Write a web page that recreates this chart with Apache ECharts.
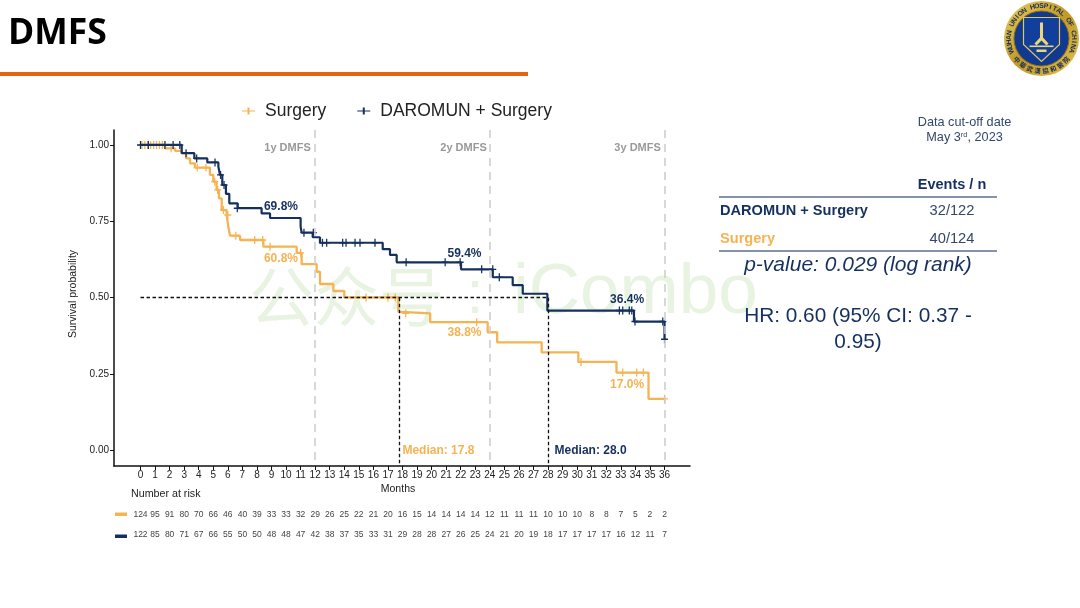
<!DOCTYPE html>
<html><head><meta charset="utf-8">
<style>html,body{margin:0;padding:0;background:#fff}#c{width:1080px;height:608px}</style>
<script src="https://cdn.jsdelivr.net/npm/echarts@6/dist/echarts.min.js"></script>
</head><body><div id="c"></div>
<script>
const ORANGE='#f6b352', NAVY='#15305f', FONT='"Liberation Sans",Arial,sans-serif';
const months=Array.from({length:37},(_,i)=>i);
const yTicks=[0,0.25,0.5,0.75,1];

const surgeryT=[0,1.68,2.37,2.83,3.13,3.4,3.74,4.77,5,5.23,5.39,5.58,5.92,6.03,6.15,6.84,8.44,10.73,11.07,12.1,12.33,13.25,14,17.71,17.87,19.9,23.85,24.5,27.56,30.08,32.7,34.9,36];
const surgeryS=[1,0.989,0.981,0.973,0.956,0.94,0.926,0.902,0.88,0.853,0.825,0.787,0.771,0.733,0.703,0.689,0.667,0.647,0.61,0.585,0.545,0.522,0.501,0.454,0.449,0.42,0.387,0.354,0.321,0.29,0.255,0.169,0.169];
const comboT=[0,2.83,3.7,4.59,5.35,5.46,5.62,5.87,6.1,6.68,8.32,8.9,11,11.07,11.83,12.33,16.64,17.14,17.6,22.02,24.2,25.57,26.26,27.95,33.9,36,36];
const comboS=[1,0.973,0.956,0.943,0.929,0.902,0.869,0.84,0.809,0.793,0.776,0.761,0.733,0.713,0.698,0.68,0.659,0.64,0.616,0.593,0.567,0.541,0.513,0.458,0.422,0.422,0.364];

const surgeryCensT=[0.1,0.3,0.5,0.7,0.9,1.1,1.3,1.5,2.1,3.9,4.5,5.1,5.3,5.7,6.0,6.55,7.85,8.4,8.9,11,15.5,17,17.5,18.22,23.1,30.26,33.13,34.09,34.55,36];
const surgeryCensS=[1,1,1,1,1,1,1,1,0.989,0.926,0.926,0.88,0.853,0.787,0.771,0.703,0.689,0.689,0.667,0.647,0.501,0.501,0.501,0.449,0.42,0.29,0.255,0.255,0.255,0.169];
const comboCensT=[0,0.54,1.68,2.24,2.7,3.13,3.86,5.12,5.5,5.74,6.65,11.23,11.87,12.5,12.79,13.89,14.12,14.74,15.08,16.11,18.25,20.93,21.96,23.44,24.2,24.65,32.9,33.13,33.58,33.75,33.97,35.88,36];
const comboCensS=[1,1,1,1,1,0.973,0.956,0.943,0.902,0.869,0.793,0.713,0.713,0.68,0.68,0.68,0.68,0.68,0.68,0.68,0.616,0.616,0.616,0.593,0.593,0.567,0.458,0.458,0.458,0.458,0.422,0.422,0.364];

const surgeryRisk=[124,95,91,80,70,66,46,40,39,33,33,32,29,26,25,22,21,20,16,15,14,14,14,14,12,11,11,11,10,10,10,8,8,7,5,2,2];
const comboRisk=[122,85,80,71,67,66,55,50,50,48,48,47,42,38,37,35,33,31,29,28,28,27,26,25,24,21,20,19,18,17,17,17,17,16,12,11,7];

const greyNotes=[[10.1,0.99,'1y DMFS'],[22.19,0.99,'2y DMFS'],[34.15,0.99,'3y DMFS']];
const navyNotes=[[9.65,0.797,'69.8%'],[22.26,0.643,'59.4%'],[33.43,0.493,'36.4%'],[30.92,0,'Median: 28.0']];
const orangeNotes=[[9.65,0.627,'60.8%'],[22.26,0.385,'38.8%'],[33.43,0.214,'17.0%'],[20.47,0,'Median: 17.8']];

const XMIN=-1.82,XMAX=37.75,YMIN=-0.0507,YMAX=1.049;
const zip=(a,b)=>a.map((v,i)=>[v,b[i]]);
const cross='path://M3.2 0h1.4v8h-1.4zM0 3.3h7.8v1.4H0z';
const legendIcon='path://M0 2.9H5.5V0H7.5V2.9H13V4.1H7.5V7H5.5V4.1H0z';

function notes(data,color,size,weight){
  return {type:'scatter',data,symbolSize:0,silent:true,z:6,xAxisIndex:0,yAxisIndex:0,itemStyle:{opacity:1},
    label:{show:true,position:'inside',opacity:1,formatter:p=>p.data[2],color,fontSize:size,fontWeight:weight,fontFamily:FONT}};
}
function riskRow(vals,row){
  return {type:'scatter',xAxisIndex:1,yAxisIndex:1,symbolSize:0,silent:true,itemStyle:{opacity:1},
    data:vals.map((v,i)=>[months[i],row,v]),
    label:{show:true,position:'inside',formatter:p=>String(p.data[2]),color:'#444',fontSize:8.5,fontFamily:FONT}};
}
function T(x,y,text,o){
  return {type:'text',x,y,rotation:(o&&o.rot)||0,silent:true,z:o&&o.z!==undefined?o.z:5,
    style:Object.assign({text,fontFamily:FONT,fill:NAVY,fontSize:13,align:'center',verticalAlign:'middle'},o||{})};
}
/* ---- logo ---- */
const LX=1041.5,LY=38.5;
const logo=[
 {type:'circle',shape:{cx:LX,cy:LY,r:37.5},silent:true,z:5,style:{fill:new echarts.graphic.LinearGradient(0,0,1,1,[{offset:0,color:'#e8cf63'},{offset:.5,color:'#c19a28'},{offset:1,color:'#e0c354'}])}},
 {type:'circle',shape:{cx:LX,cy:LY,r:27.5},silent:true,z:5,style:{fill:'#10398f',stroke:'#8a6c14',lineWidth:1}},
 {type:'polygon',shape:{points:[[LX-18,LY-21],[LX+18,LY-21],[LX+18,LY+6],[LX,LY+23],[LX-18,LY+6]]},silent:true,z:6,style:{fill:'#123f9c',stroke:'#e2c75a',lineWidth:1.2}},
 {type:'polygon',shape:{points:[[LX-1.5,LY-16],[LX+1.5,LY-16],[LX+1.5,LY-1],[LX+7,LY+5],[LX+5,LY+7],[LX,LY+2],[LX-5,LY+7],[LX-7,LY+5],[LX-1.5,LY-1]]},silent:true,z:7,style:{fill:'#ecd679'}},
 {type:'rect',shape:{x:LX-12,y:LY+7,width:24,height:1.6},silent:true,z:7,style:{fill:'#ecd679'}},
 {type:'rect',shape:{x:LX-5,y:LY+11,width:10,height:2.5},silent:true,z:7,style:{fill:'#ecd679'}}
];
const ring='WUHAN UNION HOSPITAL OF CHINA';
[...ring].forEach((ch,i)=>{
  const a=(-112+i*(224/(ring.length-1)))*Math.PI/180;
  logo.push({type:'text',x:LX+32.5*Math.sin(a),y:LY-32.5*Math.cos(a),rotation:-a,silent:true,z:7,
    style:{text:ch,fontSize:6.8,fontWeight:'bold',fontFamily:FONT,fill:'#1b2a55',align:'center',verticalAlign:'middle'}});
});
const ringCn='中華武漢協和醫院';
[...ringCn].forEach((ch,i)=>{
  const b=(180+49-i*14)*Math.PI/180;
  logo.push({type:'text',x:LX+32.5*Math.sin(b),y:LY-32.5*Math.cos(b),rotation:Math.PI-b,silent:true,z:7,
    style:{text:ch,fontSize:6.5,fontWeight:'bold',fontFamily:'"Noto Sans CJK TC"',fill:'#1b2a55',align:'center',verticalAlign:'middle'}});
});

const WM='#e8f3e1';
const graphic=[
 T(249,296,'公众号',{align:'left',fontFamily:'"Noto Sans CJK SC"',fontSize:65,fill:WM,z:0}),
 T(475,296,':',{fontSize:62,fill:WM,z:0}),
 T(513,293,'iCombo',{align:'left',fontSize:71,fill:WM,z:0}),
 T(8,34,'DMFS',{align:'left',fontFamily:'"Open Sans"',fontWeight:'bold',fontSize:35.5,fill:'#000'}),
 {type:'rect',shape:{x:0,y:72,width:528,height:4},silent:true,style:{fill:'#e2660f'}},
 T(131,494,'Number at risk',{align:'left',fontSize:10.7,fill:'#222'}),
 T(398,489,'Months',{fontSize:10.5,fill:'#222'}),
 T(73,294,'Survival probability',{fontSize:10.5,fill:'#222',rot:Math.PI/2}),
 {type:'rect',shape:{x:115,y:512.5,width:12,height:3.5},silent:true,style:{fill:ORANGE}},
 {type:'rect',shape:{x:115,y:534.5,width:12,height:3.5},silent:true,style:{fill:NAVY}},
 T(964.5,122,'Data cut-off date',{fontSize:12.7,fill:'#33476b'}),
 {type:'text',x:964.5,y:137,silent:true,style:{rich:{a:{fontSize:12.7,fontFamily:FONT,fill:'#33476b'},s:{fontSize:7.5,fontFamily:FONT,fill:'#33476b',verticalAlign:'top',padding:[0,0,5,0]}},text:'{a|May 3}{s|rd}{a|, 2023}',align:'center',verticalAlign:'middle'}},
 T(952,185,'Events / n',{fontWeight:'bold',fontSize:14.5}),
 {type:'line',shape:{x1:719,y1:197,x2:997,y2:197},silent:true,style:{stroke:'#5a6f8c',lineWidth:1.5}},
 T(720,211,'DAROMUN + Surgery',{align:'left',fontWeight:'bold',fontSize:14.6}),
 T(952,211,'32/122',{fontSize:14.7,fill:'#33476b'}),
 T(720,239,'Surgery',{align:'left',fontWeight:'bold',fontSize:14.6,fill:ORANGE}),
 T(952,239,'40/124',{fontSize:14.7,fill:'#33476b'}),
 {type:'line',shape:{x1:719,y1:251,x2:997,y2:251},silent:true,style:{stroke:'#5a6f8c',lineWidth:1.5}},
 T(858,265,'p-value: 0.029 (log rank)',{fontStyle:'italic',fontSize:21}),
 T(858,316,'HR: 0.60 (95% CI: 0.37 -',{fontSize:20.8}),
 T(858,342,'0.95)',{fontSize:20.8})
].concat(logo);

const chart=echarts.init(document.getElementById('c'),null,{renderer:'canvas'});
chart.setOption({
 animation:false,backgroundColor:'#fff',
 textStyle:{fontFamily:FONT},
 graphic,
 legend:{top:97,left:237,itemGap:31,itemWidth:13,itemHeight:7,selectedMode:false,
   textStyle:{fontSize:17.5,color:'#222',fontFamily:FONT,padding:[0,0,0,5]},
   data:[{name:'Surgery',icon:legendIcon,itemStyle:{color:ORANGE}},{name:'DAROMUN + Surgery',icon:legendIcon,itemStyle:{color:NAVY}}]},
 grid:[{left:114,right:390,top:130,height:336},{left:114,right:390,top:504,height:41,show:false}],
 xAxis:[
  {type:'value',gridIndex:0,min:XMIN,max:XMAX,splitLine:{show:false},
   axisLine:{onZero:false,lineStyle:{color:'#111',width:1.5}},
   axisTick:{length:4,customValues:months,lineStyle:{color:'#111'}},
   axisLabel:{customValues:months,color:'#222',fontSize:10,margin:4,fontFamily:FONT}},
  {type:'value',gridIndex:1,min:XMIN,max:XMAX,show:false}
 ],
 yAxis:[
  {type:'value',gridIndex:0,min:YMIN,max:YMAX,splitLine:{show:false},
   axisLine:{show:true,onZero:false,lineStyle:{color:'#111',width:1.5}},
   axisTick:{show:true,length:4,customValues:yTicks,lineStyle:{color:'#111'}},
   axisLabel:{customValues:yTicks,formatter:v=>v.toFixed(2),color:'#222',fontSize:10,margin:5,fontFamily:FONT}},
  {type:'category',gridIndex:1,data:['combo','surgery'],show:false}
 ],
 series:[
  {name:'Surgery',type:'line',step:'end',showSymbol:false,symbol:'none',z:3,data:zip(surgeryT,surgeryS),lineStyle:{color:ORANGE,width:2.3},itemStyle:{color:ORANGE}},
  {name:'DAROMUN + Surgery',type:'line',step:'end',showSymbol:false,symbol:'none',z:4,data:zip(comboT,comboS),lineStyle:{color:NAVY,width:2.2},itemStyle:{color:NAVY}},
  {name:'Surgery censored',type:'scatter',symbol:cross,symbolSize:[7,8],z:3,silent:true,data:zip(surgeryCensT,surgeryCensS),itemStyle:{color:ORANGE,opacity:1}},
  {name:'Combo censored',type:'scatter',symbol:cross,symbolSize:[7,8],z:4,silent:true,data:zip(comboCensT,comboCensS),itemStyle:{color:NAVY,opacity:1}},
  {name:'landmarks',type:'line',data:[],silent:true,z:1,
   markLine:{silent:true,symbol:'none',label:{show:false},animation:false,
     lineStyle:{color:'#cfcfcf',width:1.6,type:[8,6]},
     data:[12,24,36].map(m=>[{coord:[m,YMAX]},{coord:[m,YMIN]}])}},
  {name:'medians',type:'line',data:[],silent:true,z:5,
   markLine:{silent:true,symbol:'none',label:{show:false},animation:false,
     lineStyle:{color:'#111',width:1.3,type:[3.5,2.5]},
     data:[[{coord:[0,0.5]},{coord:[28,0.5]}],[{coord:[17.8,0.5]},{coord:[17.8,YMIN]}],[{coord:[28,0.5]},{coord:[28,YMIN]}]]}},
  notes(greyNotes,'#999999',11,'bold'),
  notes(navyNotes,NAVY,12,'bold'),
  notes(orangeNotes,ORANGE,12,'bold'),
  riskRow(surgeryRisk,'surgery'),
  riskRow(comboRisk,'combo')
 ]
});
</script></body></html>
